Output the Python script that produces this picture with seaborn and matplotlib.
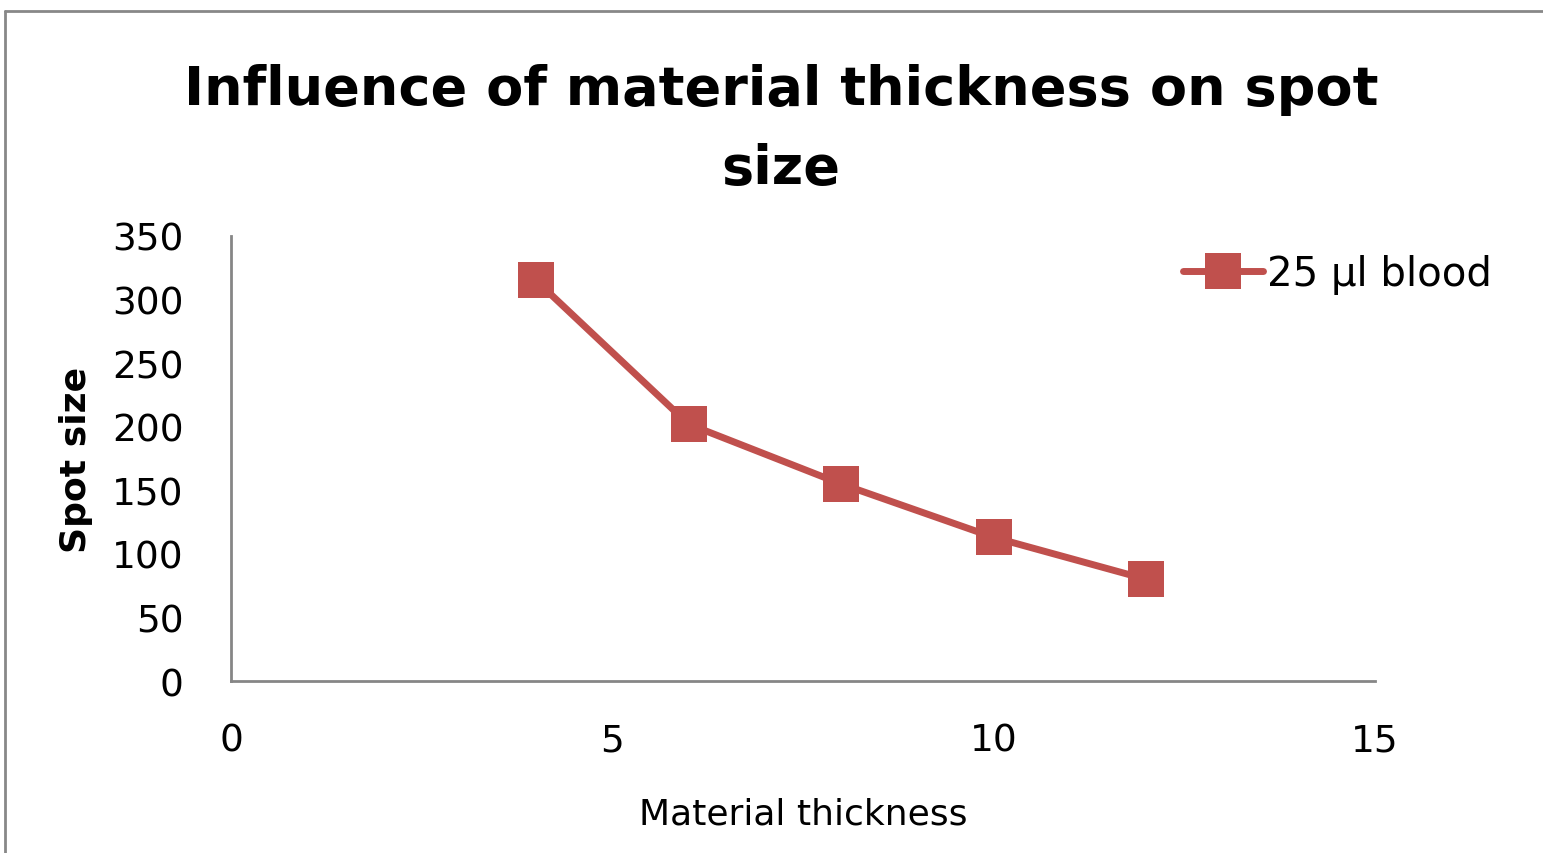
import matplotlib
matplotlib.use("Agg")
import matplotlib.pyplot as plt
import seaborn as sns
import pandas as pd
from matplotlib.lines import Line2D

thickness = [4, 6, 8, 10, 12]
spot_size = [315, 202, 155, 113, 80]
series_name = "25 µl blood"
x_ticks = [0, 5, 10, 15]
y_ticks = [0, 50, 100, 150, 200, 250, 300, 350]

sns.set_theme(style="white")
plt.rcParams['font.family'] = ['DejaVu Sans']
plt.rcParams['text.color'] = 'black'
plt.rcParams['axes.labelcolor'] = 'black'

df = pd.DataFrame({"Material thickness": thickness, "Spot size": spot_size, "series": series_name})

fig = plt.figure(figsize=(15.43, 8.54), dpi=100)
ax = fig.add_axes([0.1497, 0.2014, 0.7414, 0.5211])

red = "#C0504D"
sns.lineplot(data=df, x="Material thickness", y="Spot size", ax=ax, color=red,
             linewidth=5, marker="s", markersize=26, markeredgewidth=0,
             legend=False)

ax.set_xlim(0, 15)
ax.set_ylim(0, 350)
ax.set_xticks(x_ticks)
ax.set_yticks(y_ticks)
ax.tick_params(axis="both", length=0, labelsize=27, colors="black")
ax.tick_params(axis="x", pad=30)
ax.tick_params(axis="y", pad=34)
for s in ["top", "right"]:
    ax.spines[s].set_visible(False)
for s in ["left", "bottom"]:
    ax.spines[s].set_color("#868686")
    ax.spines[s].set_linewidth(2)

ax.set_xlabel("Material thickness", fontsize=26, labelpad=27, color="black")
ax.set_ylabel("Spot size", fontsize=26, fontweight="bold", labelpad=14, color="black")

fig.suptitle("Influence of material thickness on spot\nsize", x=0.506, y=0.925,
             fontsize=39, fontweight="bold", linespacing=1.65, color="black")

handle = Line2D([], [], color=red, linewidth=5, marker="s", markersize=26, markeredgewidth=0)
ax.legend([handle], [series_name], loc="upper left", bbox_to_anchor=(0.818, 0.995),
          frameon=False, fontsize=29, handlelength=2.0, handletextpad=0.1, borderaxespad=0,
          labelcolor="black")

# outer chart frame
fig.add_artist(plt.Line2D([0.0035, 1.0], [0.986, 0.986], transform=fig.transFigure, color="#888888", linewidth=2))
fig.add_artist(plt.Line2D([0.0035, 0.0035], [0.0, 0.986], transform=fig.transFigure, color="#888888", linewidth=2))

fig.savefig("out.png", dpi=100, facecolor="white")
